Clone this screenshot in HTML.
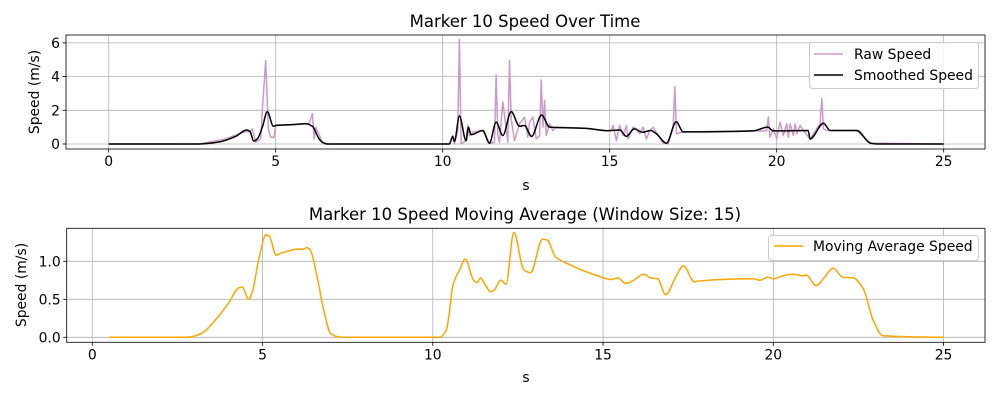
<!DOCTYPE html>
<html><head><meta charset="utf-8"><style>
body{margin:0;background:#fff}
svg text{font-family:"DejaVu Sans","Liberation Sans",sans-serif;fill:#000}
</style></head><body>
<svg id="c" width="1000" height="400" xmlns="http://www.w3.org/2000/svg">
<rect width="1000" height="400" fill="#fff"/>
</svg>
<script>
// ---- data ----
const rawT = [0,2.7,3.5,4.1,4.2,4.3,4.4,4.55,4.6,4.7,4.78,4.85,4.95,5.0,5.5,5.9,6.0,6.1,6.15,6.2,6.4,6.5,10.2,10.3,10.35,10.45,10.5,10.55,10.7,10.75,10.8,10.9,11.2,11.4,11.55,11.6,11.65,11.7,11.8,11.95,12.0,12.05,12.15,12.3,12.45,12.55,12.6,12.7,12.8,12.9,12.95,13.0,13.05,13.1,13.2,13.3,13.4,14.3,14.9,15.05,15.1,15.2,15.3,15.4,15.5,15.55,15.7,15.8,15.9,16.0,16.1,16.2,16.3,16.6,16.75,16.9,16.95,17.0,17.2,19.3,19.7,19.75,19.8,19.9,20.0,20.1,20.2,20.3,20.35,20.4,20.5,20.55,20.6,20.7,20.8,21.0,21.3,21.35,21.4,21.5,21.7,22.4,22.8,25];
const rawV = [0,0,0.3,0.75,0.7,0.9,0.1,0.3,2.0,4.95,0.9,0.4,0.4,1.1,1.15,1.2,1.2,1.8,0.3,1.0,0.1,0,0,0.5,0,0.8,6.2,0,0.2,1.1,0.5,0.7,0.8,0.05,0.1,4.1,0.5,0.1,2.5,0.1,4.95,1.5,0.2,1.2,1.6,0.4,1.3,1.6,0.3,0.5,3.8,1.0,2.6,0.5,1.2,0.8,1.0,0.93,0.8,0.8,1.1,0.2,1.1,0.5,1.1,0.3,1.0,0.9,0.6,1.0,0.3,0.8,1.0,0.05,0.0,1.0,3.4,0.6,0.72,0.78,0.78,1.6,0.4,0.9,0.3,1.3,0.5,1.2,0.4,1.2,0.5,1.2,0.6,1.1,0.8,0.3,1.2,2.7,0.9,0.8,0.8,0.8,0.05,0];
const smT = [0,2.7,3.3,3.8,4.13,4.23,4.34,4.45,4.6,4.75,4.93,5.0,5.5,5.9,6.1,6.3,6.4,6.55,10.2,10.3,10.35,10.5,10.7,10.77,10.85,11.2,11.4,11.6,11.8,12.05,12.3,12.45,12.66,12.96,13.2,13.4,14.3,14.91,15.3,15.5,15.73,15.98,16.23,16.4,16.7,16.99,17.2,19.3,19.73,19.9,20.94,21.0,21.4,21.6,22.4,22.8,23.0,25];
const smV = [0,0,0.12,0.45,0.83,0.75,0.17,0.3,1.0,1.92,1.05,1.1,1.15,1.2,1.05,0.3,0.1,0,0,0.45,0.15,1.66,0.2,1.0,0.55,0.8,0.05,1.3,0.5,1.92,1.05,1.1,0.45,1.72,1.0,0.98,0.93,0.79,0.83,0.45,0.9,0.7,0.8,0.6,0.05,1.32,0.72,0.78,1.0,0.78,0.8,0.3,1.23,0.8,0.8,0.05,0,0];
const maT = [0.5,2.8,3.2,3.6,4.0,4.3,4.4,4.6,4.7,4.9,5.1,5.2,5.4,5.5,5.8,6.0,6.2,6.3,6.4,6.6,6.8,7.0,7.3,10.2,10.4,10.6,10.8,10.95,11.2,11.3,11.4,11.5,11.7,11.8,12.0,12.15,12.38,12.67,12.87,13.22,13.36,13.6,13.95,14.83,15.23,15.43,15.67,15.86,16.2,16.4,16.6,16.84,17.14,17.36,17.68,17.78,19.43,19.6,19.84,20.0,20.29,20.58,20.88,20.97,21.25,21.52,21.75,22.04,22.35,22.64,22.93,23.22,25];
const maV = [0,0,0.05,0.22,0.45,0.65,0.66,0.5,0.6,1.05,1.35,1.33,1.08,1.1,1.14,1.16,1.16,1.18,1.15,0.8,0.35,0.05,0,0,0.1,0.7,0.9,1.03,0.75,0.72,0.78,0.72,0.6,0.62,0.75,0.7,1.38,0.89,0.85,1.29,1.28,1.06,0.97,0.81,0.76,0.78,0.71,0.74,0.83,0.78,0.77,0.56,0.8,0.94,0.73,0.74,0.77,0.75,0.79,0.77,0.81,0.83,0.81,0.82,0.68,0.8,0.91,0.79,0.78,0.64,0.23,0.02,0];
const topYTicks = [0,2,4,6];
const botYTicks = [0,0.5,1.0];
const xTicks = [0,5,10,15,20,25];

const NS="http://www.w3.org/2000/svg", svg=document.getElementById('c');
function mk(tag,attrs,parent){const e=document.createElementNS(NS,tag);for(const k in attrs)e.setAttribute(k,attrs[k]);(parent||svg).appendChild(e);return e;}
function txt(s,x,y,size,anchor,parent){const e=mk('text',{x:x,y:y,'font-size':size,'text-anchor':anchor||'middle'},parent);e.textContent=s;return e;}

function monotonePath(P){
  const n=P.length, dx=[], s=[], m=[];
  for(let i=0;i<n-1;i++){dx[i]=P[i+1][0]-P[i][0];s[i]=(P[i+1][1]-P[i][1])/dx[i];}
  m[0]=s[0];m[n-1]=s[n-2];
  for(let i=1;i<n-1;i++){ if(s[i-1]*s[i]<=0) m[i]=0; else {const w1=2*dx[i]+dx[i-1],w2=dx[i]+2*dx[i-1];m[i]=(w1+w2)/(w1/s[i-1]+w2/s[i]);} }
  let d='M'+P[0];
  for(let i=0;i<n-1;i++){const h=dx[i]/3;
    d+=' C'+[P[i][0]+h,P[i][1]+m[i]*h]+' '+[P[i+1][0]-h,P[i+1][1]-m[i+1]*h]+' '+P[i+1];}
  return d;
}

function axes(cfg){
  const g=mk('g',{});
  
  
  const X=t=>cfg.x0+(t-0)*cfg.xs, Y=v=>cfg.y0-v*cfg.ys;
  xTicks.forEach(t=>{mk('line',{x1:X(t),x2:X(t),y1:cfg.top,y2:cfg.bot,stroke:'#b0b0b0','stroke-width':0.8},g);
    mk('line',{x1:X(t),x2:X(t),y1:cfg.bot,y2:cfg.bot+3.5,stroke:'#000','stroke-width':0.8},g);
    const l=txt(String(t),X(t),cfg.bot+17,13.9,'middle',g);
    });
  cfg.yt.forEach(v=>{mk('line',{x1:cfg.left,x2:cfg.right,y1:Y(v),y2:Y(v),stroke:'#b0b0b0','stroke-width':0.8},g);
    mk('line',{x1:cfg.left-3.5,x2:cfg.left,y1:Y(v),y2:Y(v),stroke:'#000','stroke-width':0.8},g);
    const l=txt(cfg.fmt(v),cfg.left-6,Y(v)+5,13.9,'end',g);
    });
  cfg.series.forEach(s=>{
    const P=s.t.map((t,i)=>[X(t),Y(s.v[i])]);
    const d=s.smooth?monotonePath(P):'M'+P.join(' L');
    const p=mk('path',{d:d,fill:'none',stroke:s.color,'stroke-width':s.w||1.5,'stroke-linejoin':'round'},g);
    
    
  });
  mk('rect',{x:cfg.left,y:cfg.top,width:cfg.right-cfg.left,height:cfg.bot-cfg.top,fill:'none',stroke:'#000','stroke-width':0.8},g);
  return g;
}
axes({name:'top-chart',x0:108.7,xs:33.4,y0:144,ys:16.85,left:66,right:985,top:35,bot:149,yt:topYTicks,fmt:v=>String(v),
  series:[{t:rawT,v:rawV,color:'#cc99cc',name:'raw-speed-line',w:1.5},{t:smT,v:smV,color:'#000',name:'smoothed-speed-line',smooth:true}]});
axes({name:'bottom-chart',x0:92.3,xs:34.05,y0:337.3,ys:76,left:66.7,right:985,top:228.3,bot:342.3,yt:botYTicks,fmt:v=>v.toFixed(1),
  series:[{t:maT,v:maV,color:'#ffa500',name:'moving-average-line',smooth:true}]});
</script>
<svg width="1000" height="400" style="position:absolute;left:0;top:0" xmlns="http://www.w3.org/2000/svg">
<g font-family="DejaVu Sans, Liberation Sans, sans-serif">
<text x="525" y="27" font-size="16.5" text-anchor="middle">Marker 10 Speed Over Time</text>
<text x="525" y="220" font-size="16.5" text-anchor="middle">Marker 10 Speed Moving Average (Window Size: 15)</text>
<text x="526" y="190" font-size="13.9" text-anchor="middle">s</text>
<text x="526" y="382" font-size="13.9" text-anchor="middle">s</text>
<text transform="translate(39,92) rotate(-90)" font-size="13.9" text-anchor="middle">Speed (m/s)</text>
<text transform="translate(26,285) rotate(-90)" font-size="13.9" text-anchor="middle">Speed (m/s)</text>
<g>
<rect x="809.5" y="42.5" width="169" height="46" rx="3" fill="#fff" fill-opacity="0.8" stroke="#ccc"/>
<line x1="814" x2="843" y1="54" y2="54" stroke="#cc99cc" stroke-width="1.5"/>
<text x="854" y="59" font-size="13.9">Raw Speed</text>
<line x1="814" x2="843" y1="75" y2="75" stroke="#000" stroke-width="1.5"/>
<text x="854" y="80" font-size="13.9">Smoothed Speed</text>
</g>
<g>
<rect x="768.5" y="235.5" width="210" height="25" rx="3" fill="#fff" fill-opacity="0.8" stroke="#ccc"/>
<line x1="774" x2="803" y1="246" y2="246" stroke="#ffa500" stroke-width="1.5"/>
<text x="813" y="251" font-size="13.9">Moving Average Speed</text>
</g>
</g>
</svg>
</body></html>
